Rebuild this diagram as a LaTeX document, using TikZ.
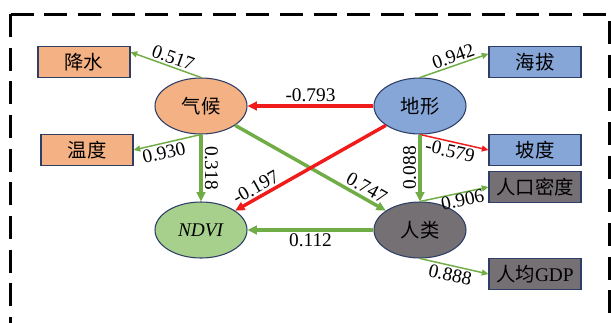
\documentclass[tikz,border=0pt]{standalone}
\usepackage{fontspec}
\setmainfont{Liberation Serif}
\newfontfamily\cjk{Noto Sans CJK SC}
\usetikzlibrary{arrows.meta, shapes.geometric}
\definecolor{orfill}{HTML}{F4B183}
\definecolor{blfill}{HTML}{86A6D8}
\definecolor{gyfill}{HTML}{747073}
\definecolor{grfill}{HTML}{A6D08C}
\definecolor{outl}{HTML}{2F3E66}
\definecolor{pathgreen}{HTML}{70AD47}
\definecolor{pathred}{HTML}{F01C1C}

\begin{document}
\begin{tikzpicture}[x=0.75pt, y=-0.75pt,
  font=\fontsize{14.5}{17}\selectfont,
  latent/.style={ellipse, draw=outl, line width=0.8pt, minimum width=69pt,
    minimum height=42pt, inner sep=0pt},
  obs/.style={rectangle, draw=outl, line width=0.8pt, minimum width=69pt,
    minimum height=23.25pt, inner sep=0pt},
  mainpath/.style={line width=2.6pt, -{Triangle[length=7pt, width=6.5pt]}},
  loadpath/.style={line width=1.1pt, -{Triangle[length=5pt, width=4.5pt]}},
  lbl/.style={text=black, inner sep=1.5pt},
  coef/.style={lbl, sloped}]

\useasboundingbox (0,0) rectangle (611,322);
\clip (0,0) rectangle (611,322);

% Dashed frame
\draw[line width=2.25pt, dash pattern=on 17.25pt off 8pt] (10.5,14) -- (10.5,340);
\draw[line width=2.25pt, dash pattern=on 17.25pt off 8pt] (10.5,14) -- (609.5,14) -- (609.5,340);

% Latent variables
\node[latent, fill=orfill] (qihou) at (201,106) {{\cjk 气候}};
\node[latent, fill=blfill] (dixing) at (420,106) {{\cjk 地形}};
\node[latent, fill=grfill] (ndvi) at (201,230) {\textit{NDVI}};
\node[latent, fill=gyfill] (renlei) at (420,230) {{\cjk 人类}};

% Indicators
\node[obs, fill=orfill] (jiangshui) at (84,62) {{\cjk 降水}};
\node[obs, fill=orfill] (wendu) at (87,150) {{\cjk 温度}};
\node[obs, fill=blfill] (haiba) at (535,62) {{\cjk 海拔}};
\node[obs, fill=blfill] (podu) at (535,150) {{\cjk 坡度}};
\node[obs, fill=gyfill] (renkou) at (535,187) {{\cjk 人口密度}};
\node[obs, fill=gyfill] (gdp) at (535,274) {{\cjk 人均}GDP};

% Loadings
\draw[loadpath, pathgreen] (qihou.north) -- node[coef, above, pos=0.44] {0.517} (jiangshui.12);
\draw[loadpath, pathgreen] (qihou.south) -- node[coef, below, pos=0.58] {0.930} (wendu.east);
\draw[loadpath, pathgreen] (dixing.north) -- node[coef, above, pos=0.53] {0.942} (haiba.170);
\draw[loadpath, pathred] (dixing.south) -- node[coef, below, pos=0.47] {-0.579} (podu.west);
\draw[loadpath, pathgreen] (renlei.north) -- node[coef, below, pos=0.6, inner sep=0pt] {0.906} (renkou.west);
\draw[loadpath, pathgreen] (renlei.south) -- node[coef, below, pos=0.47] {0.888} (gdp.west);

% Structural paths
\draw[mainpath, pathred] (dixing) -- node[lbl, above] {-0.793} (qihou);
\draw[mainpath, pathgreen] (qihou) -- node[lbl, rotate=-90, anchor=south] {0.318} (ndvi);
\draw[mainpath, pathgreen] (dixing) -- node[lbl, rotate=90, anchor=south] {0.088} (renlei);
\draw[mainpath, pathgreen] (renlei) -- node[lbl, below] {0.112} (ndvi);
\draw[mainpath, pathgreen] (qihou) -- node[coef, above, pos=0.84] {0.747} (renlei);
\draw[mainpath, pathred] (dixing) -- node[coef, above, pos=0.83] {-0.197} (ndvi);

\end{tikzpicture}
\end{document}
